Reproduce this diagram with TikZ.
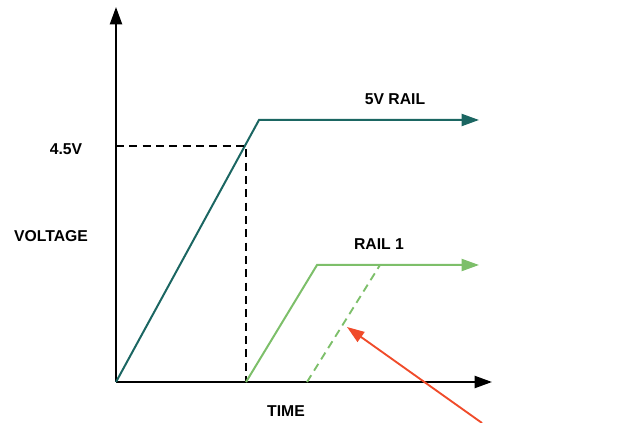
\documentclass[tikz,border=0pt]{standalone}
\usepackage{fontspec}
\setmainfont{Liberation Sans}
\usetikzlibrary{arrows.meta}
\definecolor{railteal}{HTML}{1B6662}
\definecolor{railgreen}{HTML}{7DBF6A}
\definecolor{notered}{HTML}{F04B2A}
\begin{document}
\begin{tikzpicture}[x=0.75pt,y=-0.75pt,
  lbl/.style={font=\bfseries\fontsize{11.8}{14}\selectfont, inner sep=0pt},
  tip/.style={-{Triangle[length=13pt,width=9pt]}},
  axis/.style={tip, line width=1.6pt, black},
  trace/.style={line width=1.5pt},
  guide/.style={line width=1.3pt, dash pattern=on 6pt off 4pt}]
\useasboundingbox (0,0) rectangle (631,423);
% axes
\coordinate (o) at (116,382);
\coordinate (ytop) at (116,7);
\coordinate (xend) at (492,382);
\draw[axis] (o) -- (ytop);
\draw[axis] (o) -- (xend);
% 5V rail trace
\coordinate (r5knee) at (259,120);
\coordinate (r5end) at (479,120);
\draw[trace, railteal, tip] (o) -- (r5knee) -- (r5end);
% 4.5V threshold guides
\coordinate (th) at (246,146);
\coordinate (thy) at (116,146);
\coordinate (thx) at (246,382);
\draw[guide] (thy) -- (th) -- (thx);
% rail 1 trace
\coordinate (r1knee) at (317,265);
\coordinate (r1end) at (479,265);
\draw[trace, railgreen, tip] (thx) -- (r1knee) -- (r1end);
% delayed rail 1
\coordinate (d1start) at (307,382);
\coordinate (d1knee) at (380,265);
\draw[guide, railgreen, line width=1.4pt] (d1start) -- (d1knee);
% pointer
\coordinate (ptail) at (482,423);
\coordinate (phead) at (347,327);
\draw[notered, line width=1.4pt, -{Triangle[length=13pt,width=9pt]}] (ptail) -- (phead);
% labels
\node[lbl] (l5v) at (395,99) {5V RAIL};
\node[lbl] (l45) at (66,149) {4.5V};
\node[lbl] (lv) at (51,236) {VOLTAGE};
\node[lbl] (lr1) at (379,244) {RAIL 1};
\node[lbl] (lt) at (286,411) {TIME};
\end{tikzpicture}
\end{document}
